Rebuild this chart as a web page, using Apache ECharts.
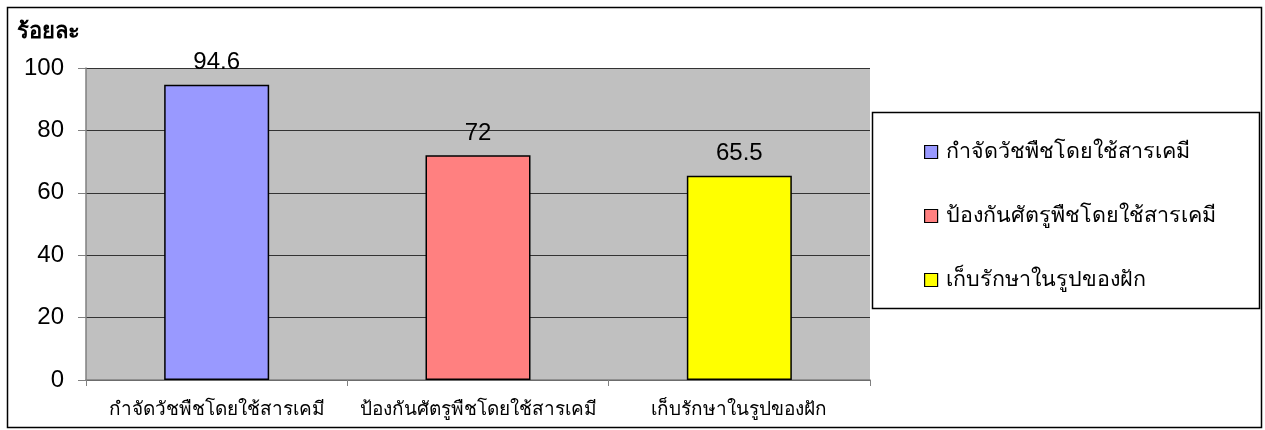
<!DOCTYPE html>
<html>
<head>
<meta charset="utf-8">
<script src="https://cdn.jsdelivr.net/npm/echarts@6/dist/echarts.min.js"></script>
<style>
html,body{margin:0;padding:0;background:#fff;}
#chart{width:1265px;height:430px;}
</style>
</head>
<body>
<div id="chart"></div>
<script>
var categories = ['กำจัดวัชพืชโดยใช้สารเคมี', 'ป้องกันศัตรูพืชโดยใช้สารเคมี', 'เก็บรักษาในรูปของฝัก'];
var values = [94.6, 72, 65.5];
var colors = ['#9999FF', '#FF8080', '#FFFF00'];
var yTicks = [0, 20, 40, 60, 80, 100];
var yAxisTitle = 'ร้อยละ';

var FONT = 'Arial, "Liberation Sans", "Noto Sans", sans-serif';

var series = categories.map(function (name, i) {
  return {
    name: name,
    type: 'bar',
    stack: 'all',
    barWidth: 105,
    data: categories.map(function (c, j) { return j === i ? values[i] : null; }),
    itemStyle: { color: colors[i], borderColor: '#000', borderWidth: 1.5 },
    label: {
      show: true, position: 'top', distance: 10,
      color: '#000', fontSize: 24, fontFamily: FONT,
      formatter: function (p) { return p.value == null ? '' : String(p.value); }
    }
  };
});

var chart = echarts.init(document.getElementById('chart'), null, { renderer: 'canvas' });
chart.setOption({
  animation: false,
  backgroundColor: '#fff',
  title: {
    text: yAxisTitle, left: 12, top: 16,
    textStyle: { fontSize: 22, fontWeight: 'bold', color: '#000', fontFamily: FONT }
  },
  grid: { left: 86, top: 68, width: 784, height: 312, show: true, backgroundColor: '#C0C0C0', borderWidth: 0 },
  legend: {
    orient: 'vertical', left: 919, top: 135,
    itemWidth: 13, itemHeight: 13, itemGap: 40,
    icon: 'rect',
    data: categories,
    itemStyle: { borderColor: '#000', borderWidth: 1.2 },
    textStyle: { fontSize: 21.5, lineHeight: 24, color: '#000', fontFamily: FONT, padding: [0, 0, 0, 3] }
  },
  xAxis: {
    type: 'category', data: categories,
    axisLine: { show: true, lineStyle: { color: '#808080', width: 1.5 } },
    axisTick: { show: true, alignWithLabel: false, length: 6, lineStyle: { color: '#808080' } },
    axisLabel: { interval: 0, margin: 20, fontSize: 19, color: '#000', fontFamily: FONT },
    splitLine: { show: false }
  },
  yAxis: {
    type: 'value', min: 0, max: 100, interval: 20,
    axisLine: { show: true, lineStyle: { color: '#808080', width: 1.5 } },
    axisTick: { show: true, length: 8, lineStyle: { color: '#808080' } },
    axisLabel: { margin: 22, fontSize: 24, color: '#000', fontFamily: FONT,
      formatter: function (v) { return yTicks.indexOf(v) >= 0 ? String(v) : ''; } },
    splitLine: { show: true, lineStyle: { color: '#333', width: 1 } }
  },
  graphic: [
    { type: 'rect', shape: { x: 7.5, y: 7.5, width: 1254, height: 420 },
      style: { fill: 'none', stroke: '#000', lineWidth: 1.5 }, z: -1, silent: true },
    { type: 'rect', shape: { x: 872.5, y: 112.5, width: 387, height: 196 },
      style: { fill: '#fff', stroke: '#000', lineWidth: 1.5 }, z: 0, silent: true }
  ],
  series: series
});
</script>
</body>
</html>
